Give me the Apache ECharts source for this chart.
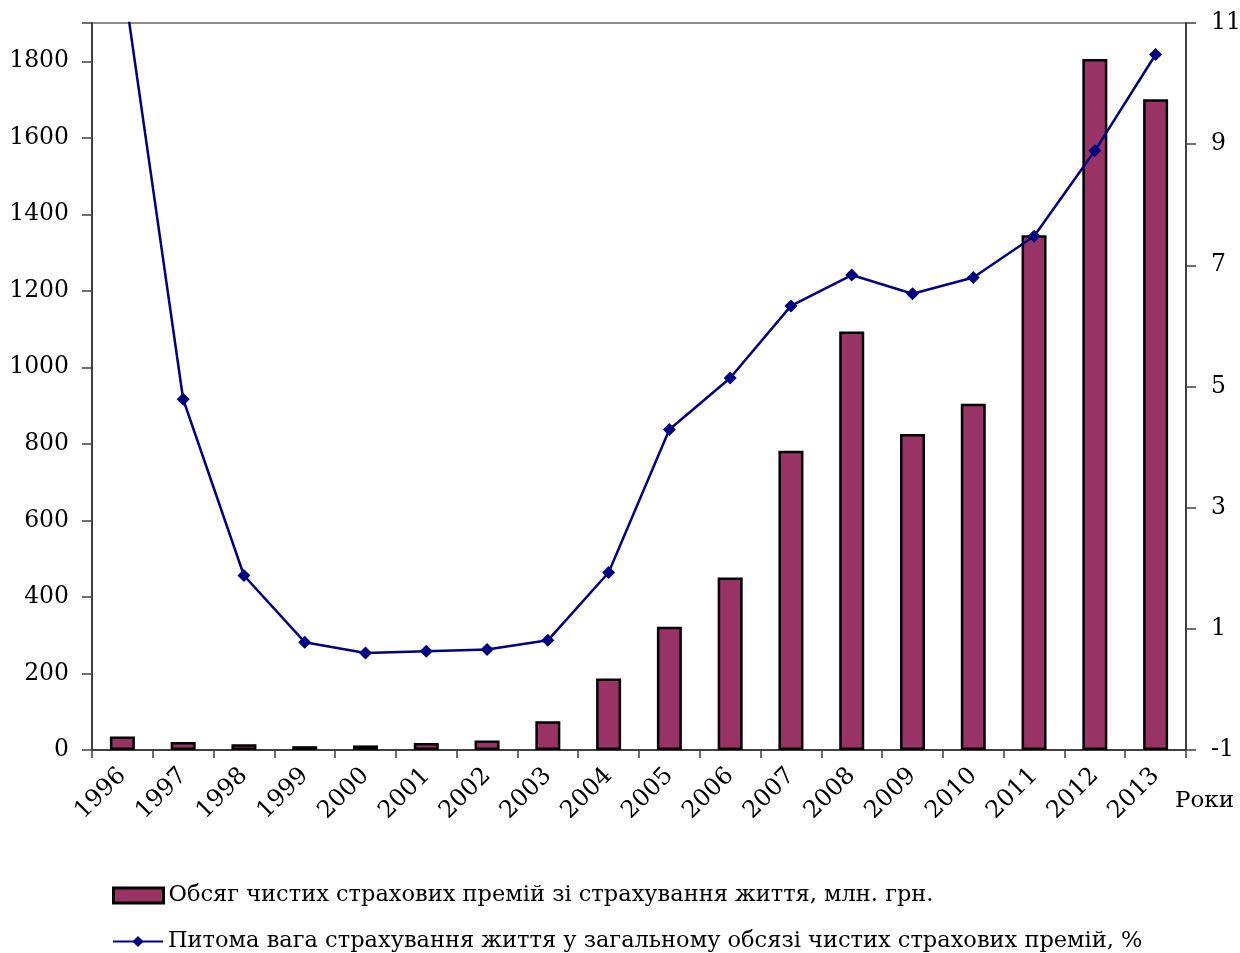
<!DOCTYPE html>
<html>
<head>
<meta charset="utf-8">
<script src="https://cdn.jsdelivr.net/npm/echarts@6/dist/echarts.min.js"></script>
<style>html,body{margin:0;padding:0;background:#fff}#c{width:1240px;height:953px}</style>
</head>
<body>
<div id="c"></div>
<script>
const years = ['1996','1997','1998','1999','2000','2001','2002','2003','2004','2005','2006','2007','2008','2009','2010','2011','2012','2013'];
const premiums = [35, 21, 15, 10, 12, 18, 25, 75, 187, 322, 451, 782, 1094, 826, 905, 1345, 1806, 1701];
const share = [11.8, 4.79, 1.88, 0.78, 0.60, 0.63, 0.66, 0.81, 1.93, 4.29, 5.14, 6.33, 6.84, 6.53, 6.80, 7.48, 8.89, 10.48];
const leftTicks = {min: 0, max: 1900, interval: 200};
const rightTicks = {min: -1, max: 11, interval: 2};
const barName = 'Обсяг чистих страхових премій зі страхування життя, млн. грн.';
const lineName = 'Питома вага страхування життя у загальному обсязі чистих страхових премій, %';
const xName = 'Роки';

const FONT = 'DejaVu Serif';
const legendText = {fontFamily: FONT, fontSize: 22.5, color: '#000'};
const chart = echarts.init(document.getElementById('c'), null, {renderer: 'canvas'});
chart.setOption({
  animation: false,
  backgroundColor: '#fff',
  textStyle: {fontFamily: FONT, color: '#000'},
  grid: {left: 92, right: 54, top: 23, bottom: 203, containLabel: false, outerBoundsMode: 'none',
         show: true, borderColor: '#8c8c8c', borderWidth: 2},
  title: {text: xName, left: 1175, top: 790, padding: 0, textStyle: {fontFamily: FONT, fontSize: 23, fontWeight: 'normal', color: '#000'}},
  legend: [
    {
      orient: 'vertical', left: 112, top: 884, padding: 0, itemWidth: 50, itemHeight: 15, itemGap: 4,
      textStyle: legendText, data: [{name: barName, icon: 'rect'}],
      itemStyle: {borderColor: '#000', borderWidth: 3}
    },
    {
      orient: 'vertical', left: 112, top: 930, padding: 0, itemWidth: 50, itemHeight: 14, itemGap: 4,
      textStyle: legendText, data: [lineName]
    }
  ],
  xAxis: {
    type: 'category', data: years, boundaryGap: true,
    axisLine: {lineStyle: {color: '#404040', width: 2}},
    axisTick: {show: true, length: 8, lineStyle: {color: '#404040', width: 1.5}},
    axisLabel: {rotate: 45, fontFamily: FONT, fontSize: 24, color: '#000', margin: 22, interval: 0}
  },
  yAxis: [
    {
      type: 'value', position: 'left', min: leftTicks.min, max: leftTicks.max, interval: leftTicks.interval,
      splitLine: {show: false},
      axisLine: {show: true, lineStyle: {color: '#404040', width: 2}},
      axisTick: {show: true, length: 10, lineStyle: {color: '#404040', width: 1.5}},
      axisLabel: {fontFamily: FONT, fontSize: 23.5, color: '#000', margin: 23, formatter: v => v > 1850 ? '' : String(v)}
    },
    {
      type: 'value', position: 'right', min: rightTicks.min, max: rightTicks.max, interval: rightTicks.interval,
      splitLine: {show: false},
      axisLine: {show: true, lineStyle: {color: '#404040', width: 2}},
      axisTick: {show: true, length: 10, lineStyle: {color: '#404040', width: 1.5}},
      axisLabel: {fontFamily: FONT, fontSize: 23.5, color: '#000', margin: 25}
    }
  ],
  series: [
    {
      name: barName, type: 'bar', data: premiums, yAxisIndex: 0, barWidth: 25,
      itemStyle: {color: '#993366', borderColor: '#000', borderWidth: 2.5}
    },
    {
      name: lineName, type: 'line', data: share, yAxisIndex: 1, clip: true,
      symbol: 'diamond', symbolSize: 13, showAllSymbol: true,
      lineStyle: {color: '#000080', width: 2.5},
      itemStyle: {color: '#000080'}
    }
  ]
});
</script>
</body>
</html>
